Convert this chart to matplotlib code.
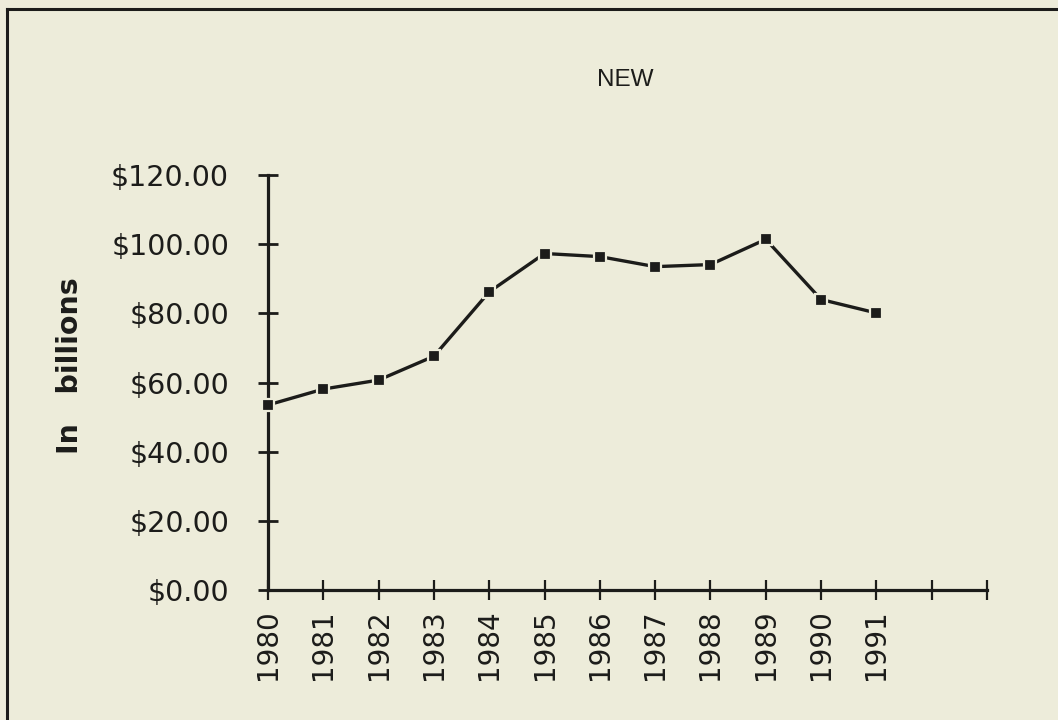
import matplotlib
matplotlib.use("Agg")
import matplotlib.pyplot as plt
from matplotlib.lines import Line2D

years = [1980, 1981, 1982, 1983, 1984, 1985, 1986, 1987, 1988, 1989, 1990, 1991]
values = [53.5, 58.1, 60.7, 67.6, 86.2, 97.3, 96.4, 93.5, 94.1, 101.4, 84.0, 80.1]
y_ticks = [0, 20, 40, 60, 80, 100, 120]
y_tick_labels = ["$0.00", "$20.00", "$40.00", "$60.00", "$80.00", "$100.00", "$120.00"]
x_ticks = list(range(1980, 1994))
x_tick_labels = [str(y) for y in years] + ["", ""]
title = "NEW"
ylabel = "In   billions"

bg = "#edecda"
ink = "#1c1c1a"

W, H = 1058, 720
fig = plt.figure(figsize=(W / 100, H / 100), dpi=100, facecolor=bg)

ax = fig.add_axes([268 / W, 1 - 590 / H, (987 - 268) / W, (590 - 175) / H])
ax.set_facecolor(bg)
ax.plot(years, values, color=ink, lw=2.4, marker="s", markersize=8,
        markerfacecolor=ink, markeredgecolor=bg, markeredgewidth=1.6,
        clip_on=False, zorder=3)

ax.set_xlim(1980, 1993)
ax.set_ylim(0, 120)
ax.set_xticks(x_ticks)
ax.set_xticklabels(x_tick_labels, rotation=90, fontsize=20, family="DejaVu Sans",
                   color=ink)
ax.set_yticks(y_ticks)
ax.set_yticklabels(y_tick_labels, fontsize=20.5, family="DejaVu Sans", color=ink)

for s in ["top", "right"]:
    ax.spines[s].set_visible(False)
for s in ["left", "bottom"]:
    ax.spines[s].set_linewidth(2.3)
    ax.spines[s].set_color(ink)

ax.tick_params(axis="y", direction="inout", length=14, width=2.0, color=ink, pad=21)
ax.tick_params(axis="x", direction="inout", length=14, width=1.6, color=ink, pad=7)

fig.text(625 / W, 1 - 80 / H, title, ha="center", va="center", fontsize=17.5,
         family="Liberation Sans", color=ink)
fig.text(70 / W, 1 - 366 / H, ylabel, ha="center", va="center", rotation=90,
         fontsize=20.5, fontweight="bold", family="DejaVu Sans", color=ink)

# outer frame (left and top edges visible)
fig.add_artist(Line2D([7 / W, 7 / W], [0, 1 - 9 / H], transform=fig.transFigure,
                      color=ink, lw=2.2))
fig.add_artist(Line2D([7 / W, 1], [1 - 9 / H, 1 - 9 / H], transform=fig.transFigure,
                      color=ink, lw=2.2))

fig.savefig("out.png", dpi=100, facecolor=bg)
